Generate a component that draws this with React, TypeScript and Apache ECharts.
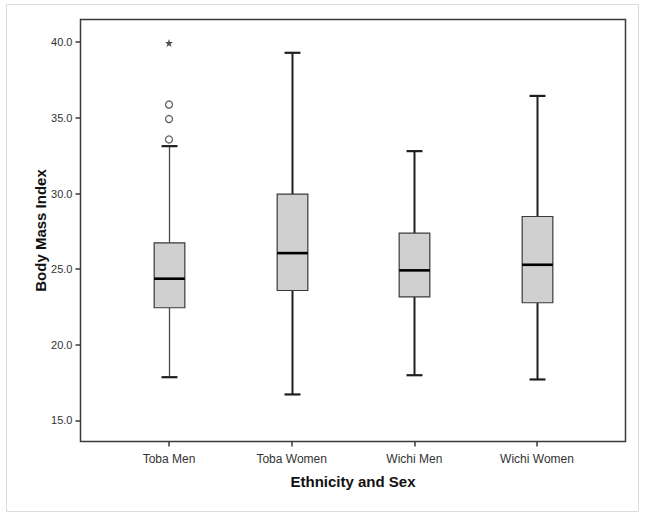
import React, { useEffect, useRef } from "react";
import * as echarts from "echarts";

// ---- Data ----
const categories = ["Toba Men", "Toba Women", "Wichi Men", "Wichi Women"];
const lowerWhisker = [17.86, 16.72, 17.99, 17.71];
const q1 = [22.45, 23.59, 23.17, 22.78];
const median = [24.37, 26.06, 24.92, 25.29];
const q3 = [26.74, 29.96, 27.38, 28.48];
const upperWhisker = [33.13, 39.3, 32.8, 36.45];
// outliers (circle) and extremes (star): [categoryIndex, value]
const outliers = [
  [0, 33.57],
  [0, 34.92],
  [0, 35.88],
];
const extremes = [[0, 39.95]];
const yTicks = [15, 20, 25, 30, 35, 40];

const FONT = "'Liberation Sans', Arial, sans-serif";
const STAR =
  "path://M50,0 L61.8,35.1 L97.6,34.5 L69.1,56.9 L79.4,90.5 L50,70 L20.6,90.5 L30.9,56.9 L2.4,34.5 L38.2,35.1 Z";

export default function App() {
  const ref = useRef<HTMLDivElement>(null);

  useEffect(() => {
    if (!ref.current) return;
    const chart = echarts.init(ref.current, null, { renderer: "svg" });

    const boxData = categories.map((_, i) => [
      i,
      lowerWhisker[i],
      q1[i],
      median[i],
      q3[i],
      upperWhisker[i],
    ]);

    const option: any = {
      animation: false,
      backgroundColor: "#ffffff",
      graphic: [
        {
          type: "rect",
          silent: true,
          z: -1,
          shape: { x: 6.5, y: 4.5, width: 632, height: 507 },
          style: { fill: "none", stroke: "#dcdcdc", lineWidth: 1 },
        },
        {
          type: "rect",
          silent: true,
          z: 10,
          shape: { x: 80.5, y: 19.5, width: 545, height: 422 },
          style: { fill: "none", stroke: "#3a3a3a", lineWidth: 1.5 },
        },
      ],
      grid: {
        left: 107.67,
        right: 46.67,
        top: 19.5,
        height: 422,
        containLabel: false,
      },
      xAxis: {
        type: "category",
        data: categories,
        boundaryGap: true,
        name: "Ethnicity and Sex",
        nameLocation: "middle",
        nameGap: 32,
        nameMoveOverlap: false,
        nameTextStyle: {
          fontFamily: FONT,
          fontWeight: "bold",
          fontSize: 15,
          color: "#111",
        },
        axisLine: { show: false },
        axisTick: {
          show: true,
          alignWithLabel: true,
          length: 5,
          lineStyle: { color: "#3a3a3a", width: 1.5 },
        },
        axisLabel: {
          fontFamily: FONT,
          fontSize: 12,
          color: "#333",
          margin: 11,
        },
        splitLine: { show: false },
      },
      yAxis: {
        type: "value",
        min: 13.61,
        max: 41.5,
        offset: 27.17,
        name: "Body Mass Index",
        nameLocation: "middle",
        nameGap: 33,
        nameRotate: 90,
        nameMoveOverlap: false,
        nameTextStyle: {
          fontFamily: FONT,
          fontWeight: "bold",
          fontSize: 15,
          color: "#111",
        },
        axisLine: { show: false },
        axisTick: {
          show: true,
          length: 5,
          customValues: yTicks,
          lineStyle: { color: "#3a3a3a", width: 1.5 },
        },
        axisLabel: {
          fontFamily: FONT,
          fontSize: 11,
          color: "#333",
          margin: 8,
          customValues: yTicks,
          formatter: (v: number) => v.toFixed(1),
        },
        splitLine: { show: false },
      },
      series: [
        {
          type: "custom",
          data: boxData,
          encode: { x: 0, y: [1, 2, 3, 4, 5] },
          z: 2,
          renderItem: (params: any, api: any) => {
            const ci = api.value(0);
            const band = api.size([1, 0])[0];
            const boxW = band * 0.25;
            const capW = band * 0.13;
            const pLow = api.coord([ci, api.value(1)]);
            const pQ1 = api.coord([ci, api.value(2)]);
            const pMed = api.coord([ci, api.value(3)]);
            const pQ3 = api.coord([ci, api.value(4)]);
            const pHigh = api.coord([ci, api.value(5)]);
            const cx = Math.round(pLow[0]) + 0.5;
            const thin = params.dataIndex === 0;
            const wStyle = {
              stroke: thin ? "#4a4a4a" : "#1e1e1e",
              lineWidth: thin ? 1.3 : 2,
            };
            const capStyle = { stroke: "#1e1e1e", lineWidth: 2.2 };
            return {
              type: "group",
              children: [
                {
                  type: "line",
                  shape: { x1: cx, y1: pQ3[1], x2: cx, y2: pHigh[1] },
                  style: wStyle,
                },
                {
                  type: "line",
                  shape: { x1: cx, y1: pQ1[1], x2: cx, y2: pLow[1] },
                  style: wStyle,
                },
                {
                  type: "line",
                  shape: {
                    x1: cx - capW / 2,
                    y1: pHigh[1],
                    x2: cx + capW / 2,
                    y2: pHigh[1],
                  },
                  style: capStyle,
                },
                {
                  type: "line",
                  shape: {
                    x1: cx - capW / 2,
                    y1: pLow[1],
                    x2: cx + capW / 2,
                    y2: pLow[1],
                  },
                  style: capStyle,
                },
                {
                  type: "rect",
                  shape: {
                    x: cx - boxW / 2,
                    y: pQ3[1],
                    width: boxW,
                    height: pQ1[1] - pQ3[1],
                  },
                  style: { fill: "#d0d0d0", stroke: "#3a3a3a", lineWidth: 1.2 },
                },
                {
                  type: "line",
                  shape: {
                    x1: cx - boxW / 2,
                    y1: pMed[1],
                    x2: cx + boxW / 2,
                    y2: pMed[1],
                  },
                  style: { stroke: "#000", lineWidth: 2.6 },
                },
              ],
            };
          },
        },
        {
          type: "scatter",
          data: outliers,
          symbol: "circle",
          symbolSize: 7,
          z: 3,
          itemStyle: { color: "#ffffff", borderColor: "#3a3a3a", borderWidth: 1.3 },
        },
        {
          type: "scatter",
          data: extremes,
          symbol: STAR,
          symbolSize: 8,
          z: 3,
          itemStyle: { color: "#222" },
        },
      ],
    };

    chart.setOption(option);
    return () => chart.dispose();
  }, []);

  return (
    <div
      ref={ref}
      style={{ position: "fixed", left: 0, top: 0, width: 645, height: 519 }}
    />
  );
}
